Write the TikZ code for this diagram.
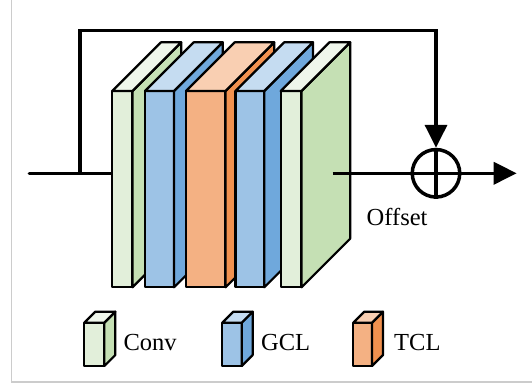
\documentclass[tikz,border=0pt]{standalone}
\usepackage{fontspec}
\setmainfont{Liberation Serif}
\usetikzlibrary{arrows.meta}
\definecolor{convF}{HTML}{E2EFDA}
\definecolor{convS}{HTML}{C5E0B4}
\definecolor{convT}{HTML}{EFF6EB}
\definecolor{gclF}{HTML}{9DC3E6}
\definecolor{gclS}{HTML}{6FA8DC}
\definecolor{gclT}{HTML}{C5DCF1}
\definecolor{tclF}{HTML}{F4B183}
\definecolor{tclS}{HTML}{F1914F}
\definecolor{tclT}{HTML}{F9CFB2}
\definecolor{frameg}{HTML}{CCCCCC}
% #1 x-left, #2 x-right, #3 y-top, #4 y-bottom, #5 depth, #6 colour prefix
\newcommand\mycuboid[6]{%
  \draw[boxline, fill=#6F] (#1,#3) rectangle (#2,#4);
  \draw[boxline, fill=#6S] (#2,#3) -- ({#2+#5},{#3-#5}) -- ({#2+#5},{#4-#5}) -- (#2,#4) -- cycle;
  \draw[boxline, fill=#6T] (#1,#3) -- ({#1+#5},{#3-#5}) -- ({#2+#5},{#3-#5}) -- (#2,#3) -- cycle;
}
\begin{document}
\begin{tikzpicture}[x=1pt, y=-1pt,
  boxline/.style={line width=2.2pt, line join=round, draw=black},
  conn/.style={line width=3.5pt, draw=black, line cap=round},
  tip/.style={-{Triangle[length=23pt, width=22pt]}},
  lbl/.style={font=\fontsize{24.5}{29}\selectfont, inner sep=0pt, anchor=base west}]
\useasboundingbox (0,0) rectangle (532,385);
% frame
\draw[frameg, line width=1.5pt] (11.3,0) -- (11.3,382) -- (532,382);

% coordinates
\coordinate (in) at (29.3,173.3);
\coordinate (split) at (80,173.3);
\coordinate (b1w) at (112.5,173.3);
\coordinate (topL) at (80,30.7);
\coordinate (topR) at (436,30.7);
\coordinate (outs) at (332.7,173.3);
\coordinate (out) at (516.7,173.3);

% input line
\draw[conn] (in) -- (b1w);

% stack of layers
\mycuboid{112.3}{132.5}{91}{287.3}{48.7}{conv}
\mycuboid{145}{174}{91}{287.3}{48.7}{gcl}
\mycuboid{186}{225.5}{91}{287.3}{48.7}{tcl}
\mycuboid{235.5}{264.3}{91}{287.3}{48.7}{gcl}
\mycuboid{280.7}{301.5}{91}{287.3}{48.7}{conv}

% sum node
\node[circle, draw=black, line width=3.5pt, minimum size=47.5pt, inner sep=0pt] (sum) at (436,173.3) {};

% skip connection
\draw[conn, line cap=butt, line join=miter, tip] (split) -- (topL) -- (topR) -- (sum.north);

% output line
\draw[conn, line cap=butt, tip] (outs) -- (out);
\draw[line width=3.5pt] (sum.north) -- (sum.south);

\node[lbl] (offset) at (366.5,225) {Offset};

% legend
\mycuboid{84.3}{104.3}{322.7}{366}{11}{conv}
\node[lbl] (lconv) at (123.3,350.7) {Conv};
\mycuboid{222.3}{241.7}{322.7}{366}{11}{gcl}
\node[lbl] (lgcl) at (261,350.7) {GCL};
\mycuboid{353.3}{372}{322.7}{366}{11}{tcl}
\node[lbl] (ltcl) at (394,350.7) {TCL};
\end{tikzpicture}
\end{document}
